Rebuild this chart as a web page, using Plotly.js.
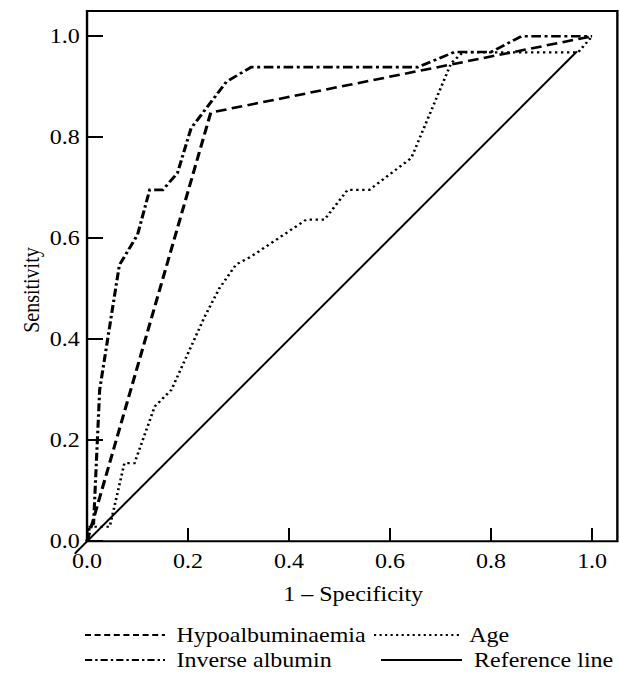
<!DOCTYPE html>
<html>
<head>
<meta charset="utf-8">
<script src="https://cdn.plot.ly/plotly-3.0.1.min.js"></script>
<style>
html, body { margin: 0; padding: 0; overflow: hidden; background: #fff; }
#plot { width: 518px; height: 673px; transform: scaleX(1.2); transform-origin: 0 0; }
</style>
</head>
<body>
<div id="plot"></div>
<script>
// ---- data ----
const seriesNames = ["Hypoalbuminaemia", "Age", "Inverse albumin", "Reference line"];

const hypoX = [0, 0.245, 1.0];
const hypoY = [0, 0.849, 1.0];

const ageX = [0, 0.002, 0.045, 0.074, 0.094, 0.134, 0.167, 0.233, 0.262, 0.295, 0.325, 0.434, 0.47, 0.516, 0.559, 0.642, 0.721, 0.744, 0.972, 1.0];
const ageY = [0, 0.029, 0.029, 0.155, 0.155, 0.267, 0.30, 0.445, 0.501, 0.548, 0.564, 0.637, 0.637, 0.696, 0.696, 0.759, 0.947, 0.968, 0.968, 1.0];

const invX = [0, 0.005, 0.013, 0.025, 0.064, 0.10, 0.124, 0.150, 0.179, 0.206, 0.276, 0.325, 0.655, 0.728, 0.80, 0.86, 1.0];
const invY = [0, 0.03, 0.035, 0.30, 0.547, 0.607, 0.696, 0.696, 0.729, 0.818, 0.910, 0.939, 0.939, 0.969, 0.969, 1.0, 1.0];

const refX = [-0.025, 0.97];
const refY = [-0.025, 0.97];

const tickVals = [0, 0.2, 0.4, 0.6, 0.8, 1.0];
const tickText = ["0.0", "0.2", "0.4", "0.6", "0.8", "1.0"];

const xTitle = "1 \u2013 Specificity";
const yTitle = "Sensitivity";

// ---- geometry ----
const SX = 1.2, W = 518, H = 673, ML = 62, MR = 1, MT = 8, MB = 119;
const PW = W - ML - MR, PH = H - MT - MB;
const xRange = [-0.025, 1.056], yRange = [-0.025, 1.056];
const axPos = 0.025 / 1.081;
const px2x = sx => (sx / SX - ML) / PW;
const px2y = sy => 1 - (sy - MT) / PH;

const FONT = "Liberation Serif";
const styles = {
  "Hypoalbuminaemia": {color: "#000", width: 2.6, dash: "9px,4.5px"},
  "Age": {color: "#000", width: 2.2, dash: "2px,3px"},
  "Inverse albumin": {color: "#000", width: 2.6, dash: "8px,3px,2.5px,3px"},
  "Reference line": {color: "#000", width: 1.8, dash: "solid"}
};
const legendDash = {
  "Hypoalbuminaemia": "5px,3px",
  "Age": "1.8px,2.8px",
  "Inverse albumin": "6px,2.5px,2px,2.5px",
  "Reference line": "solid"
};

const traces = [
  {x: hypoX, y: hypoY, name: seriesNames[0]},
  {x: ageX, y: ageY, name: seriesNames[1]},
  {x: invX, y: invY, name: seriesNames[2]},
  {x: refX, y: refY, name: seriesNames[3]}
].map(t => Object.assign(t, {type: "scatter", mode: "lines", line: styles[t.name], showlegend: false, hoverinfo: "skip"}));

// legend drawn as shapes + annotations
const legendRows = [
  [{name: seriesNames[0], x0: 85, x1: 165, tx: 174, y: 635}, {name: seriesNames[1], x0: 374, x1: 459, tx: 467, y: 635}],
  [{name: seriesNames[2], x0: 85, x1: 165, tx: 174, y: 660}, {name: seriesNames[3], x0: 381, x1: 462, tx: 472, y: 660}]
];

const shapes = [{
  type: "rect", xref: "x", yref: "y", x0: 0, x1: 1.05, y0: 0, y1: 1.05,
  line: {color: "#000", width: 2}, fillcolor: "rgba(0,0,0,0)", layer: "above"
}];
const annotations = [
  {xref: "paper", yref: "paper", x: px2x(353), y: px2y(594), text: xTitle, showarrow: false,
   xanchor: "center", yanchor: "middle", font: {family: FONT, size: 20, color: "#000"}},
  {xref: "paper", yref: "paper", x: px2x(31), y: px2y(290), text: yTitle, showarrow: false, textangle: -90,
   xanchor: "center", yanchor: "middle", font: {family: FONT, size: 20, color: "#000"}}
];
legendRows.flat().forEach(e => {
  const st = styles[e.name];
  shapes.push({type: "line", xref: "paper", yref: "paper", x0: px2x(e.x0), x1: px2x(e.x1), y0: px2y(e.y), y1: px2y(e.y),
    line: {color: st.color, width: Math.min(st.width, 2.2), dash: legendDash[e.name]}});
  annotations.push({xref: "paper", yref: "paper", x: px2x(e.tx), y: px2y(e.y), text: e.name, showarrow: false,
    xanchor: "left", yanchor: "middle", font: {family: FONT, size: 20, color: "#000"}});
});

const axisCommon = {
  anchor: "free", position: axPos, showgrid: false, zeroline: false, showline: false,
  ticks: "inside", tickcolor: "#000", tickvals: tickVals, ticktext: tickText,
  tickfont: {family: FONT, size: 20, color: "#000"}
};

const layout = {
  width: W, height: H,
  margin: {l: ML, r: MR, t: MT, b: MB, pad: 0},
  paper_bgcolor: "#fff", plot_bgcolor: "#fff",
  font: {family: FONT, size: 20, color: "#000"},
  xaxis: Object.assign({}, axisCommon, {range: xRange, ticklen: 13, tickwidth: 1.8, ticklabelstandoff: 6}),
  yaxis: Object.assign({}, axisCommon, {range: yRange, ticklen: 12, tickwidth: 2, ticklabelstandoff: 6}),
  shapes: shapes,
  annotations: annotations,
  showlegend: false
};

Plotly.newPlot("plot", traces, layout, {staticPlot: true, displayModeBar: false});
</script>
</body>
</html>
